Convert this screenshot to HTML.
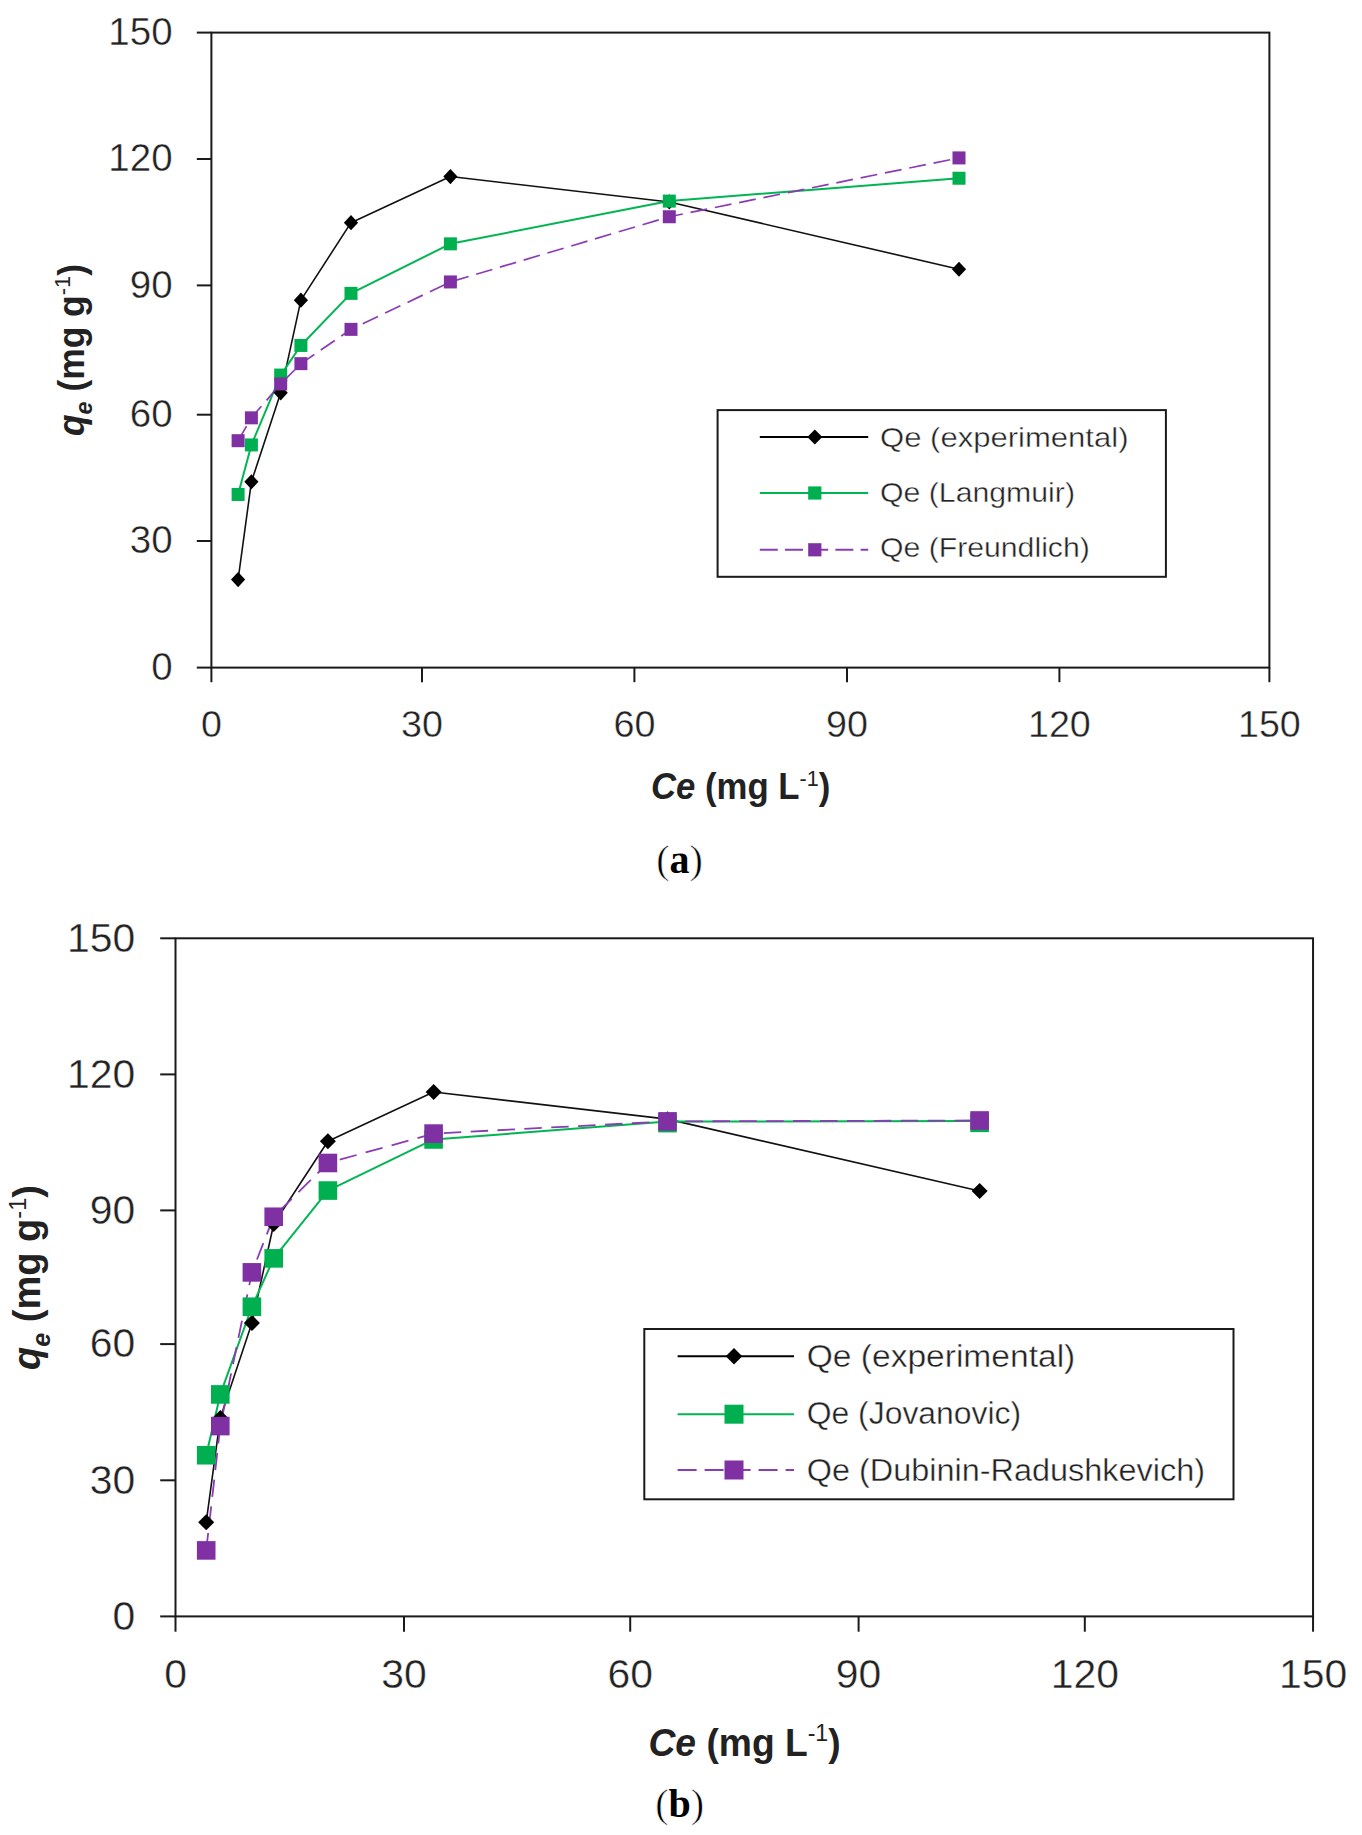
<!DOCTYPE html>
<html><head><meta charset="utf-8"><style>
html,body{margin:0;padding:0;background:#fff;}
body{width:1362px;height:1835px;overflow:hidden;}
svg{display:block;font-family:"Liberation Sans", sans-serif;}
.t{stroke:#fff;stroke-width:0.4px;}
</style></head><body>
<svg width="1362" height="1835" viewBox="0 0 1362 1835">
<rect x="211.4" y="32.6" width="1058" height="635" fill="none" stroke="#1a1a1a" stroke-width="2"/>
<line x1="196.8" y1="667.6" x2="211.4" y2="667.6" stroke="#1a1a1a" stroke-width="2"/>
<line x1="211.4" y1="667.6" x2="211.4" y2="682.2" stroke="#1a1a1a" stroke-width="2"/>
<line x1="196.8" y1="541" x2="211.4" y2="541" stroke="#1a1a1a" stroke-width="2"/>
<line x1="422" y1="667.6" x2="422" y2="682.2" stroke="#1a1a1a" stroke-width="2"/>
<line x1="196.8" y1="414.7" x2="211.4" y2="414.7" stroke="#1a1a1a" stroke-width="2"/>
<line x1="634.4" y1="667.6" x2="634.4" y2="682.2" stroke="#1a1a1a" stroke-width="2"/>
<line x1="196.8" y1="285.4" x2="211.4" y2="285.4" stroke="#1a1a1a" stroke-width="2"/>
<line x1="847" y1="667.6" x2="847" y2="682.2" stroke="#1a1a1a" stroke-width="2"/>
<line x1="196.8" y1="159" x2="211.4" y2="159" stroke="#1a1a1a" stroke-width="2"/>
<line x1="1059.4" y1="667.6" x2="1059.4" y2="682.2" stroke="#1a1a1a" stroke-width="2"/>
<line x1="196.8" y1="32.6" x2="211.4" y2="32.6" stroke="#1a1a1a" stroke-width="2"/>
<line x1="1269.4" y1="667.6" x2="1269.4" y2="682.2" stroke="#1a1a1a" stroke-width="2"/>
<text class="t" x="172.6" y="679.78" font-size="38.5" text-anchor="end" fill="#222">0</text>
<text class="t" x="172.6" y="553.18" font-size="38.5" text-anchor="end" fill="#222">30</text>
<text class="t" x="172.6" y="426.88" font-size="38.5" text-anchor="end" fill="#222">60</text>
<text class="t" x="172.6" y="297.58" font-size="38.5" text-anchor="end" fill="#222">90</text>
<text class="t" x="172.6" y="171.18" font-size="38.5" text-anchor="end" fill="#222">120</text>
<text class="t" x="172.6" y="44.78" font-size="38.5" text-anchor="end" fill="#222">150</text>
<text class="t" x="211.4" y="736.5" font-size="37.7" text-anchor="middle" fill="#222">0</text>
<text class="t" x="422" y="736.5" font-size="37.7" text-anchor="middle" fill="#222">30</text>
<text class="t" x="634.4" y="736.5" font-size="37.7" text-anchor="middle" fill="#222">60</text>
<text class="t" x="847" y="736.5" font-size="37.7" text-anchor="middle" fill="#222">90</text>
<text class="t" x="1059.4" y="736.5" font-size="37.7" text-anchor="middle" fill="#222">120</text>
<text class="t" x="1269.4" y="736.5" font-size="37.7" text-anchor="middle" fill="#222">150</text>
<polyline points="238.1,579.55 251.4,481.76 280.7,392.86 300.9,300.15 351,222.68 450.4,176.53 669.3,201.93 959,269.24" fill="none" stroke="#111" stroke-width="1.6" stroke-linejoin="round"/>
<polyline points="238.1,494.46 251.4,444.93 280.7,375.08 300.9,345.44 351,293.37 450.4,243.84 669.3,201.09 959,178.23" fill="none" stroke="#00B552" stroke-width="2" stroke-linejoin="round"/>
<polyline points="238.1,440.69 251.4,417.83 280.7,383.97 300.9,363.65 351,329.36 450.4,281.94 669.3,216.75 959,157.91" fill="none" stroke="#8A3CB4" stroke-width="1.7" stroke-linejoin="round" stroke-dasharray="16.9,7.9"/>
<path d="M238.1 571.95L245.2 579.55L238.1 587.15L231 579.55Z" fill="#000"/>
<path d="M251.4 474.16L258.5 481.76L251.4 489.36L244.3 481.76Z" fill="#000"/>
<path d="M280.7 385.26L287.8 392.86L280.7 400.46L273.6 392.86Z" fill="#000"/>
<path d="M300.9 292.55L308 300.15L300.9 307.75L293.8 300.15Z" fill="#000"/>
<path d="M351 215.08L358.1 222.68L351 230.28L343.9 222.68Z" fill="#000"/>
<path d="M450.4 168.93L457.5 176.53L450.4 184.13L443.3 176.53Z" fill="#000"/>
<path d="M669.3 194.33L676.4 201.93L669.3 209.53L662.2 201.93Z" fill="#000"/>
<path d="M959 261.64L966.1 269.24L959 276.84L951.9 269.24Z" fill="#000"/>
<rect x="231.6" y="487.96" width="13" height="13" fill="#00B050"/>
<rect x="244.9" y="438.43" width="13" height="13" fill="#00B050"/>
<rect x="274.2" y="368.58" width="13" height="13" fill="#00B050"/>
<rect x="294.4" y="338.94" width="13" height="13" fill="#00B050"/>
<rect x="344.5" y="286.87" width="13" height="13" fill="#00B050"/>
<rect x="443.9" y="237.34" width="13" height="13" fill="#00B050"/>
<rect x="662.8" y="194.59" width="13" height="13" fill="#00B050"/>
<rect x="952.5" y="171.73" width="13" height="13" fill="#00B050"/>
<rect x="231.6" y="434.19" width="13" height="13" fill="#7F30A3"/>
<rect x="244.9" y="411.33" width="13" height="13" fill="#7F30A3"/>
<rect x="274.2" y="377.47" width="13" height="13" fill="#7F30A3"/>
<rect x="294.4" y="357.15" width="13" height="13" fill="#7F30A3"/>
<rect x="344.5" y="322.86" width="13" height="13" fill="#7F30A3"/>
<rect x="443.9" y="275.44" width="13" height="13" fill="#7F30A3"/>
<rect x="662.8" y="210.25" width="13" height="13" fill="#7F30A3"/>
<rect x="952.5" y="151.41" width="13" height="13" fill="#7F30A3"/>
<rect x="717.6" y="410.1" width="448.3" height="166.7" fill="#fff" stroke="#1a1a1a" stroke-width="2"/>
<line x1="759.8" y1="437" x2="868.2" y2="437" stroke="#000" stroke-width="2"/>
<path d="M814.8 429.5L822.3 437L814.8 444.5L807.3 437Z" fill="#000"/>
<text class="t" x="880" y="446.9" font-size="27.5" fill="#222" textLength="248.5" lengthAdjust="spacingAndGlyphs">Qe (experimental)</text>
<line x1="759.8" y1="493" x2="868.2" y2="493" stroke="#00B552" stroke-width="2"/>
<rect x="808.2" y="486.4" width="13.2" height="13.2" fill="#00B050"/>
<text class="t" x="880" y="502.2" font-size="27.5" fill="#222" textLength="195" lengthAdjust="spacingAndGlyphs">Qe (Langmuir)</text>
<line x1="759.8" y1="549.8" x2="868.2" y2="549.8" stroke="#8A3CB4" stroke-width="2" stroke-dasharray="18,7.2"/>
<rect x="808.2" y="543.2" width="13.2" height="13.2" fill="#7F30A3"/>
<text class="t" x="880" y="557.4" font-size="27.5" fill="#222" textLength="209.8" lengthAdjust="spacingAndGlyphs">Qe (Freundlich)</text>
<rect x="175.5" y="938.3" width="1137.55" height="678.1" fill="none" stroke="#1a1a1a" stroke-width="2"/>
<line x1="160.2" y1="1616.4" x2="175.5" y2="1616.4" stroke="#1a1a1a" stroke-width="2"/>
<line x1="175.5" y1="1616.4" x2="175.5" y2="1631.7" stroke="#1a1a1a" stroke-width="2"/>
<line x1="160.2" y1="1480.3" x2="175.5" y2="1480.3" stroke="#1a1a1a" stroke-width="2"/>
<line x1="404" y1="1616.4" x2="404" y2="1631.7" stroke="#1a1a1a" stroke-width="2"/>
<line x1="160.2" y1="1344.1" x2="175.5" y2="1344.1" stroke="#1a1a1a" stroke-width="2"/>
<line x1="630.2" y1="1616.4" x2="630.2" y2="1631.7" stroke="#1a1a1a" stroke-width="2"/>
<line x1="160.2" y1="1210.4" x2="175.5" y2="1210.4" stroke="#1a1a1a" stroke-width="2"/>
<line x1="858.6" y1="1616.4" x2="858.6" y2="1631.7" stroke="#1a1a1a" stroke-width="2"/>
<line x1="160.2" y1="1074.4" x2="175.5" y2="1074.4" stroke="#1a1a1a" stroke-width="2"/>
<line x1="1084.8" y1="1616.4" x2="1084.8" y2="1631.7" stroke="#1a1a1a" stroke-width="2"/>
<line x1="160.2" y1="938.3" x2="175.5" y2="938.3" stroke="#1a1a1a" stroke-width="2"/>
<line x1="1313.05" y1="1616.4" x2="1313.05" y2="1631.7" stroke="#1a1a1a" stroke-width="2"/>
<text class="t" x="135.3" y="1629.74" font-size="40.9" text-anchor="end" fill="#222">0</text>
<text class="t" x="135.3" y="1493.64" font-size="40.9" text-anchor="end" fill="#222">30</text>
<text class="t" x="135.3" y="1357.44" font-size="40.9" text-anchor="end" fill="#222">60</text>
<text class="t" x="135.3" y="1223.74" font-size="40.9" text-anchor="end" fill="#222">90</text>
<text class="t" x="135.3" y="1087.74" font-size="40.9" text-anchor="end" fill="#222">120</text>
<text class="t" x="135.3" y="951.64" font-size="40.9" text-anchor="end" fill="#222">150</text>
<text class="t" x="175.5" y="1688.3" font-size="40.9" text-anchor="middle" fill="#222">0</text>
<text class="t" x="404" y="1688.3" font-size="40.9" text-anchor="middle" fill="#222">30</text>
<text class="t" x="630.2" y="1688.3" font-size="40.9" text-anchor="middle" fill="#222">60</text>
<text class="t" x="858.6" y="1688.3" font-size="40.9" text-anchor="middle" fill="#222">90</text>
<text class="t" x="1084.8" y="1688.3" font-size="40.9" text-anchor="middle" fill="#222">120</text>
<text class="t" x="1313.05" y="1688.3" font-size="40.9" text-anchor="middle" fill="#222">150</text>
<polyline points="206.2,1522.37 220.3,1417.94 251.9,1323.01 273.7,1224.01 327.9,1141.28 433.6,1092 667.5,1119.13 979.6,1191.01" fill="none" stroke="#111" stroke-width="1.6" stroke-linejoin="round"/>
<polyline points="206.2,1455.24 220.3,1394.44 251.9,1306.73 273.7,1258.36 327.9,1190.55 433.6,1139.47 667.5,1121.61 979.6,1120.93" fill="none" stroke="#00B552" stroke-width="2" stroke-linejoin="round"/>
<polyline points="206.2,1550.4 220.3,1426.08 251.9,1272.38 273.7,1216.77 327.9,1162.98 433.6,1133.59 667.5,1121.39 979.6,1120.48" fill="none" stroke="#8A3CB4" stroke-width="1.8" stroke-linejoin="round" stroke-dasharray="17.5,9.4"/>
<path d="M206.2 1514.37L214.2 1522.37L206.2 1530.37L198.2 1522.37Z" fill="#000"/>
<path d="M220.3 1409.94L228.3 1417.94L220.3 1425.94L212.3 1417.94Z" fill="#000"/>
<path d="M251.9 1315.01L259.9 1323.01L251.9 1331.01L243.9 1323.01Z" fill="#000"/>
<path d="M273.7 1216.01L281.7 1224.01L273.7 1232.01L265.7 1224.01Z" fill="#000"/>
<path d="M327.9 1133.28L335.9 1141.28L327.9 1149.28L319.9 1141.28Z" fill="#000"/>
<path d="M433.6 1084L441.6 1092L433.6 1100L425.6 1092Z" fill="#000"/>
<path d="M667.5 1111.13L675.5 1119.13L667.5 1127.13L659.5 1119.13Z" fill="#000"/>
<path d="M979.6 1183.01L987.6 1191.01L979.6 1199.01L971.6 1191.01Z" fill="#000"/>
<rect x="196.9" y="1445.94" width="18.6" height="18.6" fill="#00B050"/>
<rect x="211" y="1385.14" width="18.6" height="18.6" fill="#00B050"/>
<rect x="242.6" y="1297.43" width="18.6" height="18.6" fill="#00B050"/>
<rect x="264.4" y="1249.06" width="18.6" height="18.6" fill="#00B050"/>
<rect x="318.6" y="1181.25" width="18.6" height="18.6" fill="#00B050"/>
<rect x="424.3" y="1130.17" width="18.6" height="18.6" fill="#00B050"/>
<rect x="658.2" y="1113.81" width="18.6" height="18.6" fill="#00B050"/>
<rect x="970.3" y="1113.53" width="18.6" height="18.6" fill="#00B050"/>
<rect x="196.9" y="1541.1" width="18.6" height="18.6" fill="#7F30A3"/>
<rect x="211" y="1416.78" width="18.6" height="18.6" fill="#7F30A3"/>
<rect x="242.6" y="1263.08" width="18.6" height="18.6" fill="#7F30A3"/>
<rect x="264.4" y="1207.47" width="18.6" height="18.6" fill="#7F30A3"/>
<rect x="318.6" y="1153.68" width="18.6" height="18.6" fill="#7F30A3"/>
<rect x="424.3" y="1124.29" width="18.6" height="18.6" fill="#7F30A3"/>
<rect x="658.2" y="1112.09" width="18.6" height="18.6" fill="#7F30A3"/>
<rect x="970.3" y="1111.18" width="18.6" height="18.6" fill="#7F30A3"/>
<rect x="644.3" y="1329" width="589.2" height="170.3" fill="#fff" stroke="#1a1a1a" stroke-width="2"/>
<line x1="677.6" y1="1356.2" x2="794" y2="1356.2" stroke="#000" stroke-width="2"/>
<path d="M734 1347.95L742.25 1356.2L734 1364.45L725.75 1356.2Z" fill="#000"/>
<text class="t" x="806.7" y="1366.8" font-size="31" fill="#222" textLength="268.6" lengthAdjust="spacingAndGlyphs">Qe (experimental)</text>
<line x1="677.6" y1="1414.2" x2="794" y2="1414.2" stroke="#00B552" stroke-width="2"/>
<rect x="724.5" y="1404.7" width="19" height="19" fill="#00B050"/>
<text class="t" x="806.7" y="1423.7" font-size="31" fill="#222" textLength="214.5" lengthAdjust="spacingAndGlyphs">Qe (Jovanovic)</text>
<line x1="677.6" y1="1470" x2="794" y2="1470" stroke="#8A3CB4" stroke-width="2" stroke-dasharray="19,8"/>
<rect x="724.5" y="1460.5" width="19" height="19" fill="#7F30A3"/>
<text class="t" x="806.7" y="1480.6" font-size="31" fill="#222" textLength="398.3" lengthAdjust="spacingAndGlyphs">Qe (Dubinin-Radushkevich)</text>
<text x="651" y="799.3" font-size="36" font-weight="bold" fill="#222" textLength="179.3" lengthAdjust="spacingAndGlyphs"><tspan font-style="italic">Ce</tspan> (mg L<tspan font-weight="normal" font-size="22.32" dy="-13.68">-1</tspan><tspan dy="13.68">)</tspan></text>
<text transform="translate(83.6 436) rotate(-90)" x="0" y="0" font-size="36" font-weight="bold" fill="#222" textLength="172" lengthAdjust="spacingAndGlyphs"><tspan font-style="italic">q</tspan><tspan font-style="italic" font-size="23.76" dy="8.82">e</tspan><tspan dy="-8.82"> (mg g</tspan><tspan font-weight="normal" font-size="22.32" dy="-13.68">-1</tspan><tspan dy="13.68">)</tspan></text>
<text x="648.5" y="1755.5" font-size="38.5" font-weight="bold" fill="#222" textLength="192.1" lengthAdjust="spacingAndGlyphs"><tspan font-style="italic">Ce</tspan> (mg L<tspan font-weight="normal" font-size="23.87" dy="-14.63">-1</tspan><tspan dy="14.63">)</tspan></text>
<text transform="translate(40.2 1370) rotate(-90)" x="0" y="0" font-size="38.5" font-weight="bold" fill="#222" textLength="185" lengthAdjust="spacingAndGlyphs"><tspan font-style="italic">q</tspan><tspan font-style="italic" font-size="25.41" dy="9.43">e</tspan><tspan dy="-9.43"> (mg g</tspan><tspan font-weight="normal" font-size="23.87" dy="-14.63">-1</tspan><tspan dy="14.63">)</tspan></text>
<text x="679.5" y="872.6" font-family="Liberation Serif, serif" font-size="40" text-anchor="middle" fill="#000"><tspan stroke="#fff" stroke-width="0.6">(</tspan><tspan font-weight="bold">a</tspan><tspan stroke="#fff" stroke-width="0.6">)</tspan></text>
<text x="679.7" y="1817.2" font-family="Liberation Serif, serif" font-size="40" text-anchor="middle" fill="#000"><tspan stroke="#fff" stroke-width="0.6">(</tspan><tspan font-weight="bold">b</tspan><tspan stroke="#fff" stroke-width="0.6">)</tspan></text>
</svg>
</body></html>
